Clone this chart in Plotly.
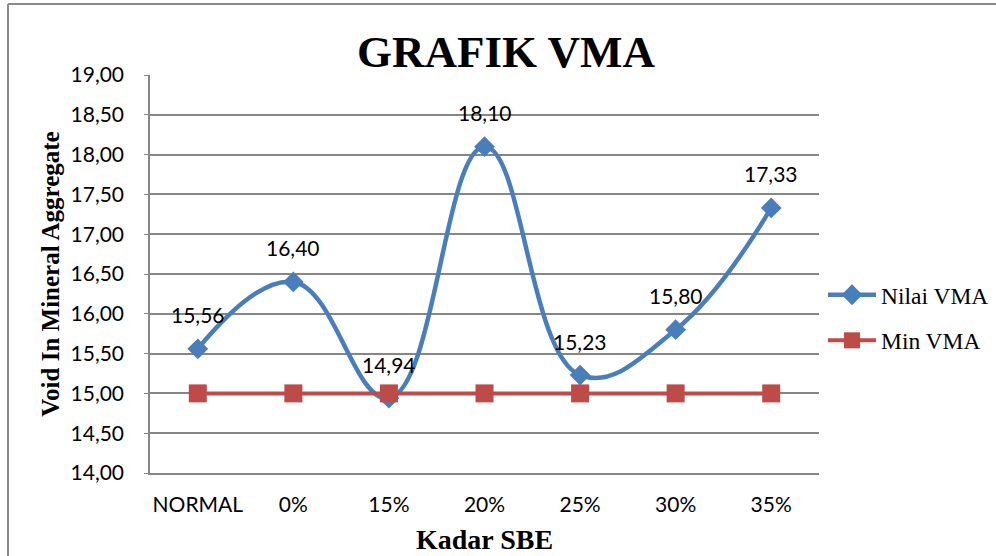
import plotly.graph_objects as go

categories = ["NORMAL", "0%", "15%", "20%", "25%", "30%", "35%"]
nilai_vma = [15.56, 16.40, 14.94, 18.10, 15.23, 15.80, 17.33]
min_vma = [15.00, 15.00, 15.00, 15.00, 15.00, 15.00, 15.00]
y_ticks = [14.0, 14.5, 15.0, 15.5, 16.0, 16.5, 17.0, 17.5, 18.0, 18.5, 19.0]

BLUE = "#4A7EBB"
RED = "#BE4B48"
SERIF = "Liberation Serif, Times New Roman, serif"
SANS = "Lato, Open Sans, sans-serif"

fig = go.Figure()
fig.add_trace(go.Scatter(
    x=categories, y=nilai_vma, name="Nilai VMA", mode="lines+markers",
    line=dict(color=BLUE, width=4.5, shape="spline", smoothing=1.2),
    marker=dict(symbol="diamond", size=16, color=BLUE),
    legendgroup="a",
))
fig.add_trace(go.Scatter(
    x=categories, y=min_vma, name="Min VMA", mode="lines+markers",
    line=dict(color=RED, width=4),
    marker=dict(symbol="square", size=18, color=RED),
    legendgroup="b",
))

for c, v in zip(categories, nilai_vma):
    fig.add_annotation(
        x=c, y=v, text=f"{v:.2f}".replace(".", ","), showarrow=False,
        yshift=34, font=dict(family=SANS, size=21, color="#000000"),
    )

# outer chart border (left and top edges visible)
L, R, T, B = 150, 819, 75, 473
pw, ph = R - L, B - T
bx = (8 - L) / pw
by = (B - 4) / ph
fig.add_shape(type="line", xref="paper", yref="paper",
              x0=bx, x1=(1000 - L) / pw, y0=by, y1=by,
              line=dict(color="#8a8a8a", width=2))
fig.add_shape(type="line", xref="paper", yref="paper",
              x0=bx, x1=bx, y0=by, y1=(B - 570) / ph,
              line=dict(color="#8a8a8a", width=2))

fig.update_layout(
    width=996, height=556,
    margin=dict(l=L, r=996 - R, t=T, b=556 - B, autoexpand=False),
    paper_bgcolor="white", plot_bgcolor="white",
    separators=",.",
    title=dict(
        text="<b>GRAFIK VMA</b>", x=506 / 996, xanchor="center",
        y=1 - 51 / 556, yanchor="middle", xref="container", yref="container",
        font=dict(family=SERIF, size=45, color="#000000"),
    ),
    xaxis=dict(
        showgrid=False, showline=True, linecolor="#868686", linewidth=1.5,
        ticks="", ticklabelstandoff=12, automargin=False,
        tickfont=dict(family=SANS, size=21, color="#000000"),
        title=dict(text="<b>Kadar SBE</b>", font=dict(family=SERIF, size=28, color="#000000"), standoff=14),
        range=[-0.5, 6.5],
    ),
    yaxis=dict(
        range=[14, 19], tickvals=y_ticks, tickformat=".2f",
        showgrid=True, gridcolor="#868686", gridwidth=1.5,
        showline=True, linecolor="#868686", linewidth=1.5, automargin=False,
        ticks="outside", ticklen=4, tickcolor="#868686", ticklabelstandoff=16,
        tickfont=dict(family=SANS, size=21, color="#000000"),
        title=dict(text="<b>Void In Mineral Aggregate</b>", font=dict(family=SERIF, size=25, color="#000000"), standoff=4),
        zeroline=False,
    ),
    legend=dict(
        xref="container", yref="container",
        x=823 / 996, xanchor="left", y=1 - 318 / 556, yanchor="middle",
        font=dict(family=SERIF, size=23.5, color="#000000"),
        tracegroupgap=12, traceorder="grouped", itemwidth=48,
        bgcolor="rgba(0,0,0,0)",
    ),
)

fig.write_html("out.html", config={"displayModeBar": False},
               post_script="document.body.style.margin='0';document.body.style.padding='0';")
